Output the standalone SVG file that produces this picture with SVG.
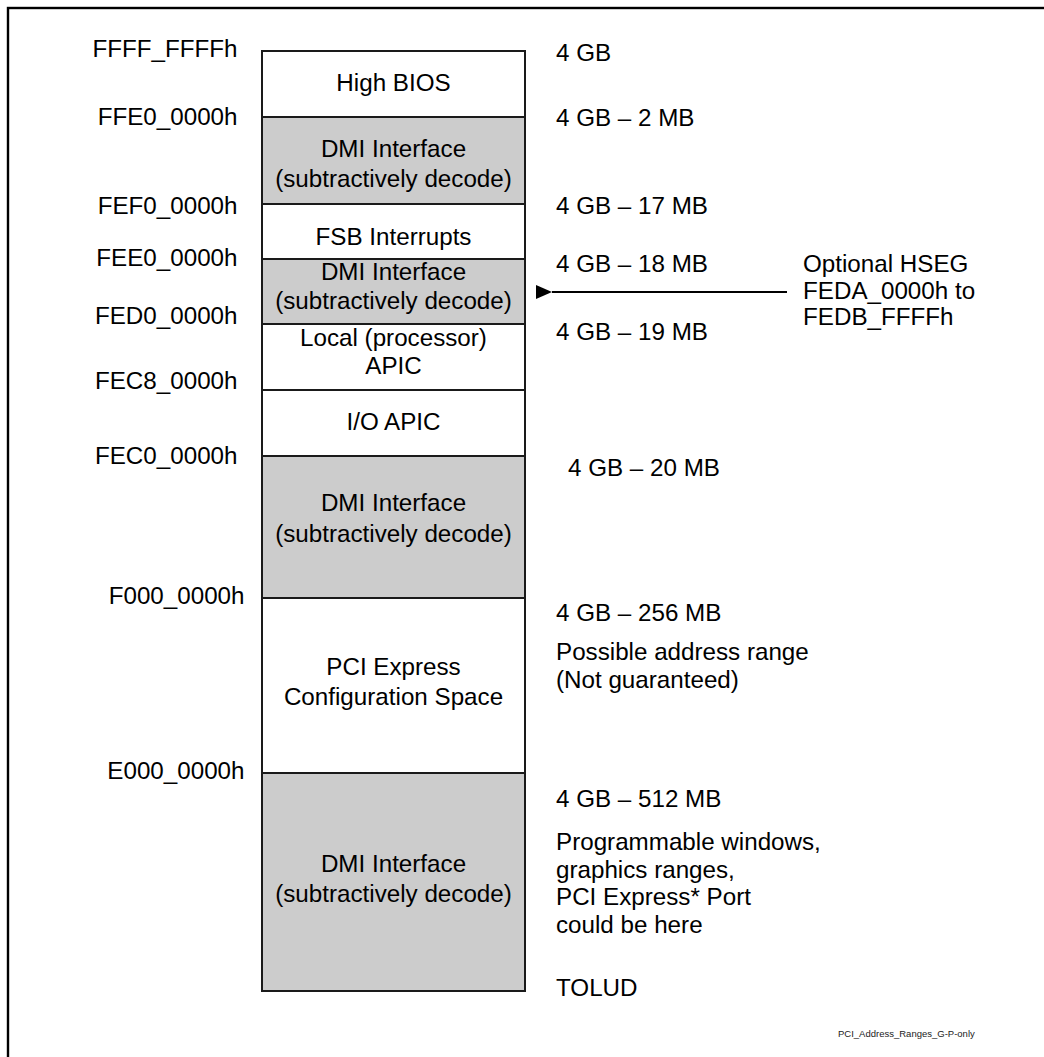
<svg xmlns="http://www.w3.org/2000/svg" width="1044" height="1057" viewBox="0 0 1044 1057">
<style>
text{font-family:"Liberation Sans",Arial,sans-serif;font-size:24.2px;fill:#000}
.seg{stroke:#1a1a1a;stroke-width:2}
.w{fill:#fff}
.g{fill:#cccccc}
.c{text-anchor:middle}
.r{text-anchor:end}
.foot{font-size:9.5px;fill:#222}
</style>
<defs>
<marker id="ah" markerWidth="16" markerHeight="14" refX="0" refY="7" orient="auto" markerUnits="userSpaceOnUse">
<path d="M16,0 L0,7 L16,14 Z" fill="#000"/>
</marker>
</defs>
<rect width="1044" height="1057" fill="#fff"/>
<rect x="8" y="8" width="1100" height="1100" fill="none" stroke="#000" stroke-width="2.4"/>

<g id="high-bios"><rect class="seg w" x="262" y="51" width="263" height="66"/><text class="c" x="393.5" y="91">High BIOS</text></g>
<g id="dmi-1"><rect class="seg g" x="262" y="117" width="263" height="87"/><text class="c" x="393.5" y="157">DMI Interface</text><text class="c" x="393.5" y="187">(subtractively decode)</text></g>
<g id="fsb-interrupts"><rect class="seg w" x="262" y="204" width="263" height="55"/><text class="c" x="393.5" y="245">FSB Interrupts</text></g>
<g id="dmi-2"><rect class="seg g" x="262" y="259" width="263" height="65"/><text class="c" x="393.5" y="280">DMI Interface</text><text class="c" x="393.5" y="309">(subtractively decode)</text></g>
<g id="local-apic"><rect class="seg w" x="262" y="324" width="263" height="66"/><text class="c" x="393.5" y="346">Local (processor)</text><text class="c" x="393.5" y="374">APIC</text></g>
<g id="io-apic"><rect class="seg w" x="262" y="390" width="263" height="66"/><text class="c" x="393.5" y="430">I/O APIC</text></g>
<g id="dmi-3"><rect class="seg g" x="262" y="456" width="263" height="142"/><text class="c" x="393.5" y="511">DMI Interface</text><text class="c" x="393.5" y="542">(subtractively decode)</text></g>
<g id="pci-config"><rect class="seg w" x="262" y="598" width="263" height="175"/><text class="c" x="393.5" y="675">PCI Express</text><text class="c" x="393.5" y="705">Configuration Space</text></g>
<g id="dmi-4"><rect class="seg g" x="262" y="773" width="263" height="218"/><text class="c" x="393.5" y="872">DMI Interface</text><text class="c" x="393.5" y="902">(subtractively decode)</text></g>

<g id="addr-labels">
<text class="r" x="237.5" y="57">FFFF_FFFFh</text>
<text class="r" x="237.5" y="125">FFE0_0000h</text>
<text class="r" x="237.5" y="214">FEF0_0000h</text>
<text class="r" x="237.5" y="266">FEE0_0000h</text>
<text class="r" x="237.5" y="324">FED0_0000h</text>
<text class="r" x="237.5" y="389">FEC8_0000h</text>
<text class="r" x="237.5" y="464">FEC0_0000h</text>
<text class="r" x="244.5" y="604">F000_0000h</text>
<text class="r" x="244.5" y="779">E000_0000h</text>
</g>

<g id="size-labels">
<text x="556" y="61">4 GB</text>
<text x="556" y="126">4 GB – 2 MB</text>
<text x="556" y="214">4 GB – 17 MB</text>
<text x="556" y="272">4 GB – 18 MB</text>
<text x="556" y="340">4 GB – 19 MB</text>
<text x="568" y="476">4 GB – 20 MB</text>
<text x="556" y="621">4 GB – 256 MB</text>
<text x="556" y="660">Possible address range</text>
<text x="556" y="688">(Not guaranteed)</text>
<text x="556" y="807">4 GB – 512 MB</text>
<text x="556" y="850">Programmable windows,</text>
<text x="556" y="878">graphics ranges,</text>
<text x="556" y="905">PCI Express* Port</text>
<text x="556" y="933">could be here</text>
<text x="556" y="996">TOLUD</text>
</g>

<g id="hseg-note">
<text x="803" y="272">Optional HSEG</text>
<text x="803" y="299">FEDA_0000h to</text>
<text x="803" y="325">FEDB_FFFFh</text>
</g>

<g id="connectors">
<line x1="787" y1="292" x2="552" y2="292" stroke="#000" stroke-width="2" marker-end="url(#ah)"/>
</g>

<text class="foot" x="838" y="1037">PCI_Address_Ranges_G-P-only</text>
</svg>
